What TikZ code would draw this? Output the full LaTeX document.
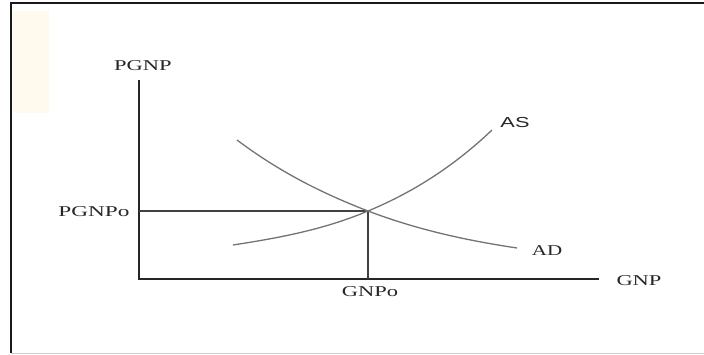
\documentclass[tikz,border=0pt]{standalone}
\usepackage{fontspec}
\setmainfont{Liberation Serif}
\newfontfamily\lsans{Liberation Sans}
\definecolor{peach}{RGB}{255,249,238}
\begin{document}
\begin{tikzpicture}[x=1pt,y=-1pt,
  lbl/.style={inner sep=0pt, font=\fontsize{15}{15}\selectfont, text=black!85},
  axisline/.style={line width=2.4pt, black!85},
  guide/.style={line width=1.4pt, black!75},
  curve/.style={line width=1.3pt, black!55}]
\useasboundingbox (0,0) rectangle (704,354);
% frame
\fill[peach] (13,11) rectangle (49,113);
\draw[line width=2pt, black!90] (704,3) -- (11,3) -- (11,353);
\draw[line width=1pt, black!20] (11,353) -- (704,353);
% axes
\coordinate (O) at (139,279);
\coordinate (Ytop) at (139,80);
\coordinate (Xend) at (599,279);
\coordinate (E) at (368,211);
\coordinate (Py) at (139,211);
\coordinate (Gx) at (368,279);
\coordinate (ADs) at (237,140);
\coordinate (ADe) at (517,248);
\coordinate (ASs) at (233,245);
\coordinate (ASe) at (492,130);
\draw[axisline] (Ytop) -- (O) -- (Xend);
\draw[guide] (Py) -- (E) -- (Gx);
% curves
\draw[curve] (ADs) .. controls (281,173) and (324,194) .. (E)
  .. controls (418,230) and (467,240.5) .. (ADe);
\draw[curve] (ASs) .. controls (278,238) and (323,230) .. (E)
  .. controls (409,194) and (451,169) .. (ASe);
% labels
\node[lbl] (pgnp) at (143,66) {\scalebox{1.5}[1]{PGNP}};
\node[lbl] (pgnpo) at (94,211.5) {\scalebox{1.55}[1]{PGNPo}};
\node[lbl] (gnpo) at (370,292) {\scalebox{1.5}[1]{GNPo}};
\node[lbl] (gnp) at (639,281) {\scalebox{1.5}[1]{GNP}};
\node[lbl] (ad) at (547,250.5) {\scalebox{1.4}[1]{AD}};
\node[lbl, font=\lsans\fontsize{14.5}{15}\selectfont] (as) at (515,122.5) {\scalebox{1.5}[1]{AS}};
\end{tikzpicture}
\end{document}
